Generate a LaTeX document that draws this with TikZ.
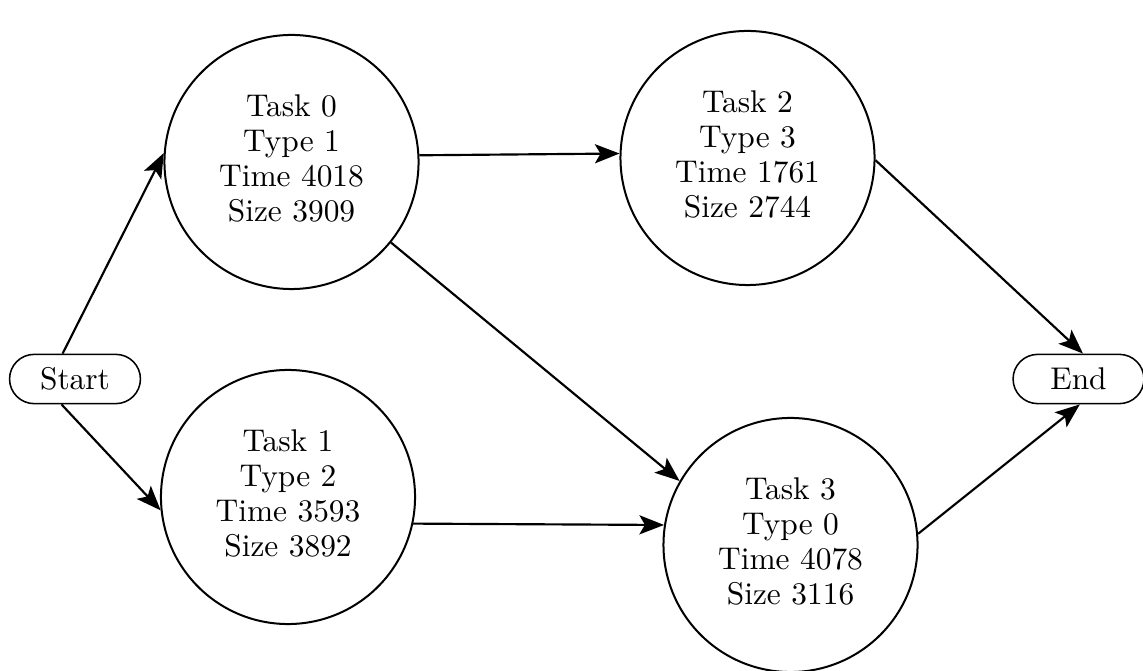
\documentclass[tikz,border=0pt]{standalone}
\usetikzlibrary{arrows.meta,shapes.misc}

% four centred lines of task data
\newcommand{\taskinfo}[4]{\raisebox{1.5pt}{\begin{tabular}{@{}c@{}}#1\\#2\\#3\\#4\end{tabular}}}

\begin{document}
\begin{tikzpicture}[x=0.3247pt,y=-0.3247pt,
  font=\fontsize{10.2}{11.4}\selectfont,
  task/.style={draw,circle,minimum size=82.5pt,inner sep=0pt,line width=0.65pt},
  term/.style={draw,rounded rectangle,minimum width=46.5pt,minimum height=16pt,inner sep=2pt,line width=0.5pt},
  flow/.style={-{Stealth[length=8pt,width=6.2pt,inset=1.8pt]},line width=0.7pt}]
  \useasboundingbox (0,0) rectangle (1143,671);

  % terminals
  \node[term] (s) at (75,379) {Start};
  \node[term] (e) at (1078.5,379) {End};

  % tasks
  \node[task] (t0) at (291.5,162) {\taskinfo{Task 0}{Type 1}{Time 4018}{Size 3909}};
  \node[task] (t1) at (288,497) {\taskinfo{Task 1}{Type 2}{Time 3593}{Size 3892}};
  \node[task] (t2) at (747.5,158) {\taskinfo{Task 2}{Type 3}{Time 1761}{Size 2744}};
  \node[task] (t3) at (790.5,545) {\taskinfo{Task 3}{Type 0}{Time 4078}{Size 3116}};

  % dependencies
  \draw[flow] (s.116) -- (t0.176);
  \draw[flow] (s.242) -- (t1.186.7);
  \draw[flow] (t0.3.2) -- (t2.178.6);
  \draw[flow] (t0.-39) -- (t3.150.5);
  \draw[flow] (t1.-12.6) -- (t3.171);
  \draw[flow] (t2.-1.8) -- (e.80);
  \draw[flow] (t3.5.5) -- (e.273);
\end{tikzpicture}
\end{document}
